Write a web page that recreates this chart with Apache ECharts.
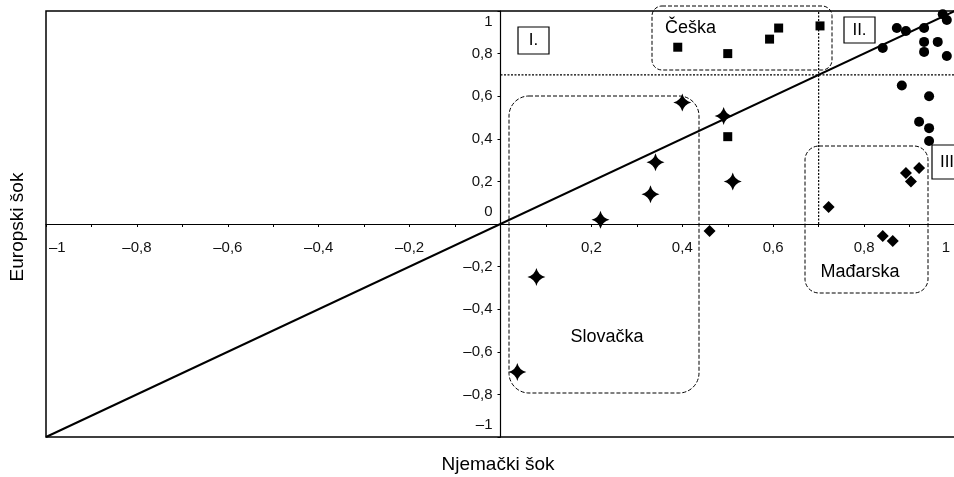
<!DOCTYPE html>
<html>
<head>
<meta charset="utf-8">
<script src="https://cdn.jsdelivr.net/npm/echarts@6/dist/echarts.min.js"></script>
<style>
  html, body { margin: 0; padding: 0; background: #fff; }
  #main { width: 954px; height: 477px; }
</style>
</head>
<body>
<div id="main"></div>
<script>
// Slovačka (stars)
const slovakia = [
  [0.037, -0.695], [0.079, -0.249], [0.22, 0.02], [0.33, 0.14],
  [0.341, 0.29], [0.40, 0.57], [0.491, 0.507], [0.511, 0.20]
];
// Češka (squares)
const czech = [
  [0.39, 0.83], [0.50, 0.80], [0.592, 0.868], [0.612, 0.92],
  [0.703, 0.93], [0.50, 0.41]
];
// Mađarska (diamonds)
const hungary = [
  [0.46, -0.033], [0.722, 0.08], [0.841, -0.056], [0.863, -0.08],
  [0.892, 0.24], [0.903, 0.20], [0.921, 0.263]
];
// other countries (circles)
const others = [
  [0.841, 0.826], [0.872, 0.92], [0.892, 0.906], [0.932, 0.92],
  [0.973, 0.985], [0.982, 0.958], [0.932, 0.855], [0.962, 0.855],
  [0.932, 0.808], [0.982, 0.789], [0.883, 0.65], [0.943, 0.60],
  [0.921, 0.48], [0.943, 0.45], [0.943, 0.39]
];
const diagonal = [[-1, -1], [1, 1]];
const threshold = 0.7;

const font = '"Liberation Sans", Arial, sans-serif';
const fmt = v => String(Math.round(v * 10) / 10).replace('.', ',').replace('-', '\u2013');
const star = 'path://M0,-10 Q2,-2 10,0 Q2,2 0,10 Q-2,2 -10,0 Q-2,-2 0,-10 Z';

const myChart = echarts.init(document.getElementById('main'));

const dashBox = (x, y, w, h, r) => ({
  type: 'rect', shape: { x: x, y: y, width: w, height: h, r: r },
  style: { fill: null, stroke: '#000', lineWidth: 1, lineDash: [4, 2] }, z: 10
});
const romanBox = (x, y, w, h, t) => ({
  type: 'group', z: 10, children: [
    { type: 'rect', shape: { x: x, y: y, width: w, height: h },
      style: { fill: '#fff', stroke: '#000', lineWidth: 1.2 } },
    { type: 'text', x: x + w / 2, y: y + h / 2,
      style: { text: t, font: '17px ' + font, fill: '#000', align: 'center', verticalAlign: 'middle' } }
  ]
});
const label = (x, y, t, size, align) => ({
  type: 'text', x: x, y: y, z: 10,
  style: { text: t, font: size + 'px ' + font, fill: '#000', align: align || 'center', verticalAlign: 'middle' }
});

const option = {
  animation: false,
  grid: {
    left: 46, right: -1, top: 11, bottom: 40, outerBoundsMode: 'none',
    show: true, borderColor: '#000', borderWidth: 1.5
  },
  xAxis: {
    type: 'value', min: -1, max: 1, interval: 0.2, position: 'bottom', offset: -213,
    axisLine: { onZero: false, lineStyle: { color: '#000', width: 1.2 } },
    axisTick: { show: true, length: 3, lineStyle: { color: '#000' } },
    minorTick: { show: true, splitNumber: 2, length: 3, lineStyle: { color: '#000' } },
    splitLine: { show: false },
    axisLabel: {
      margin: 16, color: '#111', fontSize: 15, fontFamily: font,
      alignMinLabel: 'left', alignMaxLabel: 'right',
      formatter: v => {
        if (Math.abs(v) < 1e-9) return '';
        if (v < -0.99) return '{l|\u20131}';
        if (v > 0.99) return '{r|1}';
        return fmt(v);
      },
      rich: {
        l: { fontSize: 15, fontFamily: font, color: '#111', padding: [0, 0, 0, 3] },
        r: { fontSize: 15, fontFamily: font, color: '#111', padding: [0, 5, 0, 0] }
      }
    }
  },
  yAxis: {
    type: 'value', min: -1, max: 1, interval: 0.2, position: 'left', offset: -454.5,
    axisLine: { onZero: false, lineStyle: { color: '#000', width: 1.2 } },
    axisTick: { show: true, length: 3, lineStyle: { color: '#000' } },
    splitLine: { show: false },
    axisLabel: {
      margin: 8, color: '#111', fontSize: 15, fontFamily: font,
      formatter: v => {
        if (Math.abs(v) < 1e-9) return '{up|0}';
        if (v > 0.99) return '{down|1}';
        if (v < -0.99) return '{up|\u20131}';
        return fmt(v);
      },
      rich: {
        up: { fontSize: 15, fontFamily: font, color: '#111', padding: [0, 0, 24, 0] },
        down: { fontSize: 15, fontFamily: font, color: '#111', padding: [22, 0, 0, 0] }
      }
    }
  },
  graphic: [
    dashBox(652, 6, 180, 64, 10),
    dashBox(509, 96, 190, 297, 20),
    dashBox(805, 146, 123, 147, 14),
    romanBox(518, 27, 31, 27, 'I.'),
    romanBox(844, 17, 31, 26, 'II.'),
    romanBox(932, 145, 30, 34, 'III'),
    label(665, 28, 'Češka', 18, 'left'),
    label(607, 337, 'Slovačka', 18),
    label(860, 272, 'Mađarska', 18),
    label(498, 465, 'Njemački šok', 19),
    { type: 'text', x: 18, y: 227, rotation: Math.PI / 2, z: 10,
      style: { text: 'Europski šok', font: '19px ' + font, fill: '#000', align: 'center', verticalAlign: 'middle' } }
  ],
  series: [
    {
      type: 'line', data: diagonal, symbol: 'none', silent: true,
      lineStyle: { color: '#000', width: 2 }
    },
    {
      type: 'line', data: [[0, threshold], [1, threshold]], symbol: 'none', silent: true,
      lineStyle: { color: '#000', width: 1.2, type: [2, 1.5] }
    },
    {
      type: 'line', data: [[threshold, 0], [threshold, 1]], symbol: 'none', silent: true,
      lineStyle: { color: '#000', width: 1.2, type: [2, 1.5] }
    },
    { type: 'scatter', data: slovakia, symbol: star, symbolSize: 18, itemStyle: { color: '#000', opacity: 1 } },
    { type: 'scatter', data: czech, symbol: 'rect', symbolSize: 9, itemStyle: { color: '#000', opacity: 1 } },
    { type: 'scatter', data: hungary, symbol: 'diamond', symbolSize: 12, itemStyle: { color: '#000', opacity: 1 } },
    { type: 'scatter', data: others, symbol: 'circle', symbolSize: 10, itemStyle: { color: '#000', opacity: 1 } }
  ]
};

myChart.setOption(option);
</script>
</body>
</html>
